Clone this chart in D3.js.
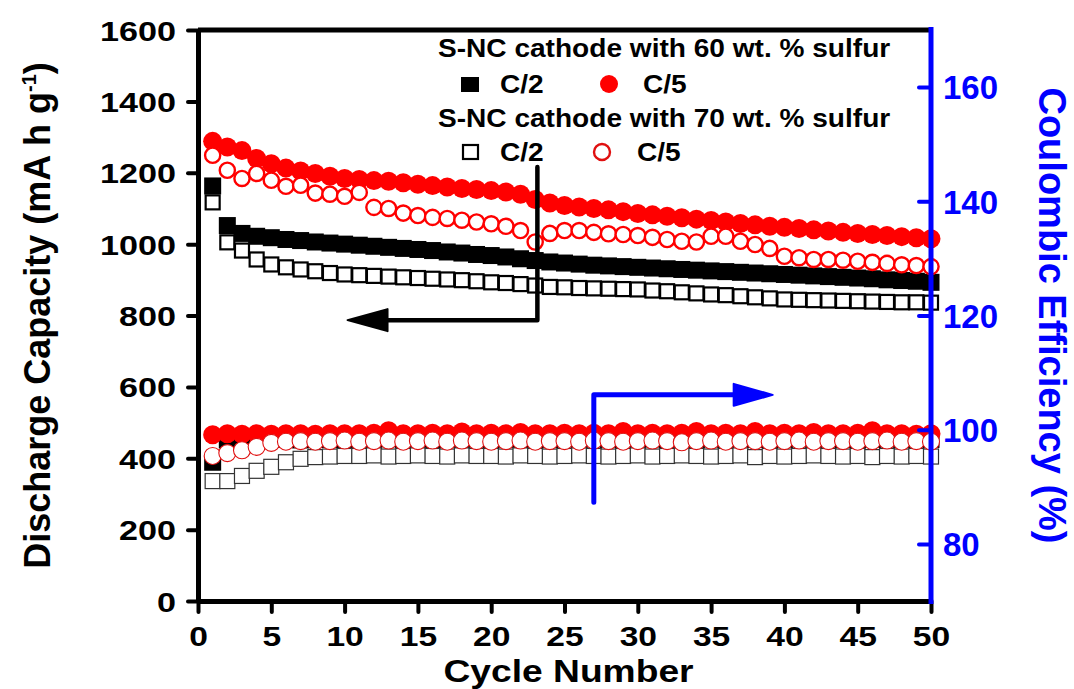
<!DOCTYPE html>
<html>
<head>
<meta charset="utf-8">
<script src="https://cdn.jsdelivr.net/npm/d3@7"></script>
<style>
  body { margin: 0; background: #fff; }
  text { font-family: "Liberation Sans", Arial, sans-serif; font-weight: bold; }
</style>
</head>
<body>
<div id="chart"></div>
<script>
// cycle numbers
const cycles = [1,2,3,4,5,6,7,8,9,10,11,12,13,14,15,16,17,18,19,20,21,22,23,24,25,
  26,27,28,29,30,31,32,33,34,35,36,37,38,39,40,41,42,43,44,45,46,47,48,49,50];

// discharge capacity (mA h g-1)
const cap60C2 = [1163,1052,1030,1022,1018,1013,1010,1006,1003,1000,997,994,991,988,985,982,978,975,971,968,
  964,959,954,950,947,944,941,939,937,935,933,931,929,927,925,923,921,919,917,915,913,911,909,907,905,903,900,898,896,893];
const cap60C5 = [1288,1272,1262,1240,1225,1213,1205,1198,1190,1184,1181,1178,1176,1172,1168,1164,1160,1156,1153,1150,
  1146,1140,1125,1115,1108,1104,1100,1096,1091,1086,1082,1078,1074,1070,1066,1062,1058,1054,1050,1047,1044,1040,1037,1033,1030,1027,1024,1021,1018,1015];
const cap70C2 = [1117,1005,982,957,943,935,929,924,919,915,913,911,909,907,905,903,901,899,896,893,
  891,888,884,880,879,877,876,875,874,873,870,868,865,862,859,857,854,851,848,845,844,843,842,841,840,839,838,837,837,836];
const cap70C5 = [1249,1207,1184,1198,1179,1162,1165,1143,1140,1134,1145,1103,1100,1087,1080,1075,1072,1067,1062,1057,
  1050,1038,1006,1030,1038,1038,1033,1029,1027,1024,1019,1013,1008,1006,1022,1022,1008,999,988,966,962,957,957,955,952,949,946,942,940,937];

// coulombic efficiency (%)
const ce60C2 = [94.3,98.2,98.3,98.2,98.4,98.3,98.2,98.4,98.3,98.3,98.4,98.3,98.5,98.3,98.4,98.3,98.4,98.3,98.4,98.3,
  98.4,98.3,98.4,98.3,98.4,98.3,98.4,98.3,98.4,98.3,98.4,98.3,98.4,98.3,98.4,98.3,98.4,98.3,98.4,98.3,98.4,98.3,98.4,98.3,98.4,98.3,98.4,98.3,98.4,98.3];
const ce60C5 = [99.1,99.3,99.2,99.3,99.2,99.3,99.3,99.2,99.3,99.3,99.3,99.4,99.8,99.3,99.3,99.4,99.3,99.6,99.3,99.4,
  99.3,99.5,99.3,99.3,99.4,99.3,99.4,99.3,99.7,99.3,99.4,99.3,99.4,99.7,99.3,99.4,99.3,99.7,99.3,99.4,99.3,99.5,99.3,99.3,99.4,99.8,99.3,99.3,99.2,99.3];
const ce70C2 = [91.0,91.0,91.9,92.8,93.5,94.3,94.9,95.2,95.3,95.4,95.4,95.5,95.3,95.4,95.5,95.4,95.3,95.5,95.4,95.4,
  95.3,95.5,95.4,95.3,95.4,95.5,95.4,95.3,95.4,95.5,95.3,95.4,95.5,95.4,95.3,95.4,95.5,95.2,95.4,95.3,95.4,95.5,95.4,95.3,95.4,95.2,95.4,95.3,95.4,95.3];
const ce70C5 = [95.4,95.9,96.4,97.0,97.7,97.9,98.0,97.9,98.0,98.1,97.9,98.0,98.1,97.9,98.0,98.1,97.9,98.1,98.0,97.9,
  98.0,98.1,97.9,98.0,98.0,97.9,98.1,98.0,97.9,98.0,98.1,98.0,97.8,98.0,98.1,97.9,98.0,98.0,97.9,98.0,98.1,97.9,98.0,98.0,97.9,98.0,98.1,97.9,98.0,97.9];

const xTicks = [0,5,10,15,20,25,30,35,40,45,50];
const yTicks = [0,200,400,600,800,1000,1200,1400,1600];
const y2Ticks = [80,100,120,140,160];

const width = 1074, height = 689;
const pLeft = 198, pRight = 931, pTop = 30, pBottom = 601;

const svg = d3.select("#chart").append("svg")
  .attr("width", width)
  .attr("height", height);

const x = d3.scaleLinear().domain([0, 50]).range([pLeft, pRight]);
const y = d3.scaleLinear().domain([0, 1600]).range([pBottom, pTop]);
const y2 = d3.scaleLinear().domain([70, 170]).range([pBottom, pTop]);

// markers
function squares(vals, yScale, size, fill, stroke, sw) {
  svg.append("g").selectAll("rect")
    .data(vals)
    .join("rect")
    .attr("x", (d, i) => x(cycles[i]) - size / 2)
    .attr("y", d => yScale(d) - size / 2)
    .attr("width", size)
    .attr("height", size)
    .attr("fill", fill)
    .attr("stroke", stroke)
    .attr("stroke-width", sw);
}
function circles(vals, yScale, r, fill, stroke, sw) {
  svg.append("g").selectAll("circle")
    .data(vals)
    .join("circle")
    .attr("cx", (d, i) => x(cycles[i]))
    .attr("cy", d => yScale(d))
    .attr("r", r)
    .attr("fill", fill)
    .attr("stroke", stroke)
    .attr("stroke-width", sw);
}

squares(cap60C2, y, 17, "#000", "none", 0);
squares(ce60C2, y2, 17, "#000", "none", 0);
squares(cap70C2, y, 14, "#fff", "#000", 2.2);
squares(ce70C2, y2, 15, "#fff", "#333", 1.2);
circles(cap60C5, y, 9.5, "red", "none", 0);
circles(ce60C5, y2, 9.5, "red", "none", 0);
circles(cap70C5, y, 7.6, "#fff", "red", 2.4);
circles(ce70C5, y2, 8.5, "#fff", "#e01010", 1.1);

// axes
const axL = svg.append("g").attr("transform", `translate(${pLeft},0)`)
  .call(d3.axisLeft(y).tickValues(yTicks).tickFormat(d3.format("d")).tickSize(10).tickSizeOuter(0));
axL.selectAll("text").attr("x", 0).attr("dy", "0.36em")
  .attr("transform", "translate(-22,0) scale(1.22,1)")
  .style("font-size", "28px").attr("fill", "#000");

const axB = svg.append("g").attr("transform", `translate(0,${pBottom})`)
  .call(d3.axisBottom(x).tickValues(xTicks).tickFormat(d3.format("d")).tickSize(11).tickSizeOuter(0));
axB.selectAll("text").attr("y", 0).attr("dy", 0)
  .attr("transform", "translate(0,45) scale(1.2,1)")
  .style("font-size", "28px").attr("fill", "#000");

svg.append("line").attr("x1", pLeft).attr("x2", pRight).attr("y1", pTop).attr("y2", pTop)
  .attr("stroke", "#000").attr("stroke-width", 5);

const axR = svg.append("g").attr("transform", `translate(${pRight},0)`)
  .call(d3.axisRight(y2).tickValues(y2Ticks).tickSize(-12).tickPadding(12).tickSizeOuter(0));
axR.selectAll("text").style("font-size", "33px").attr("fill", "blue").attr("dy", "0.36em");
axR.selectAll("line").attr("stroke", "blue");
axR.select(".domain").attr("stroke", "blue").attr("d", `M0,${pTop - 3}V${pBottom + 3}`);

[axL, axB].forEach(a => a.selectAll("line").attr("stroke", "#000"));
[axL, axB, axR].forEach(a => {
  a.select(".domain").attr("stroke-width", 5);
  a.selectAll(".tick line").attr("stroke-width", 4).attr("stroke-linecap", "round");
});

// axis titles
svg.append("text")
  .attr("transform", `translate(50,${(pTop + pBottom) / 2}) rotate(-90)`)
  .attr("text-anchor", "middle")
  .style("font-size", "36px")
  .html('Discharge Capacity (mA h g<tspan dy="-14" style="font-size:20px">-1</tspan><tspan dy="14">)</tspan>');

svg.append("text")
  .attr("transform", `translate(1039,${(pTop + pBottom) / 2}) rotate(90)`)
  .attr("text-anchor", "middle")
  .attr("fill", "blue")
  .style("font-size", "38px")
  .text("Coulombic Efficiency (%)");

svg.append("text")
  .attr("transform", `translate(${(pLeft + pRight) / 2 + 4},682) scale(1.2,1)`)
  .attr("text-anchor", "middle")
  .style("font-size", "31px")
  .text("Cycle Number");

// arrows (in data coordinates)
const blackArrow = { x0: 23.15, y0: 1216, y1: 787, tip: 10.2 };
const blueArrow = { x0: 27.0, y0: 87.3, y1: 106.1, tip: 39.2 };

svg.append("path")
  .attr("d", `M${x(blackArrow.x0)},${y(blackArrow.y0)}V${y(blackArrow.y1)}H${x(blackArrow.tip) + 36}`)
  .attr("fill", "none").attr("stroke", "#000").attr("stroke-width", 4.5)
  .attr("stroke-linecap", "round").attr("stroke-linejoin", "round");
svg.append("path")
  .attr("d", `M${x(blackArrow.tip)},${y(blackArrow.y1)}L${x(blackArrow.tip) + 40},${y(blackArrow.y1) - 11}L${x(blackArrow.tip) + 40},${y(blackArrow.y1) + 11}Z`)
  .attr("fill", "#000").attr("stroke", "#000").attr("stroke-width", 2).attr("stroke-linejoin", "round");

svg.append("path")
  .attr("d", `M${x(blueArrow.x0)},${y2(blueArrow.y0)}V${y2(blueArrow.y1)}H${x(blueArrow.tip) - 36}`)
  .attr("fill", "none").attr("stroke", "blue").attr("stroke-width", 5)
  .attr("stroke-linecap", "round").attr("stroke-linejoin", "round");
svg.append("path")
  .attr("d", `M${x(blueArrow.tip)},${y2(blueArrow.y1)}L${x(blueArrow.tip) - 39},${y2(blueArrow.y1) - 11}L${x(blueArrow.tip) - 39},${y2(blueArrow.y1) + 11}Z`)
  .attr("fill", "blue").attr("stroke", "blue").attr("stroke-width", 2).attr("stroke-linejoin", "round");

// legend
function legText(str, tx, ty) {
  svg.append("text")
    .attr("transform", `translate(${tx},${ty}) scale(1.08,1)`)
    .style("font-size", "26px")
    .text(str);
}
legText("S-NC cathode with 60 wt. % sulfur", 438, 57);
legText("S-NC cathode with 70 wt. % sulfur", 438, 127);
svg.append("rect").attr("x", 461).attr("y", 77).attr("width", 18).attr("height", 15).attr("fill", "#000");
legText("C/2", 500, 93);
svg.append("circle").attr("cx", 609).attr("cy", 84).attr("r", 9).attr("fill", "red");
legText("C/5", 643, 93);
svg.append("rect").attr("x", 463).attr("y", 145).attr("width", 15).attr("height", 14)
  .attr("fill", "#fff").attr("stroke", "#000").attr("stroke-width", 2.2);
legText("C/2", 500, 161);
svg.append("circle").attr("cx", 602).attr("cy", 152).attr("r", 8).attr("fill", "#fff")
  .attr("stroke", "#e01010").attr("stroke-width", 2.4);
legText("C/5", 637, 161);
</script>
</body>
</html>
